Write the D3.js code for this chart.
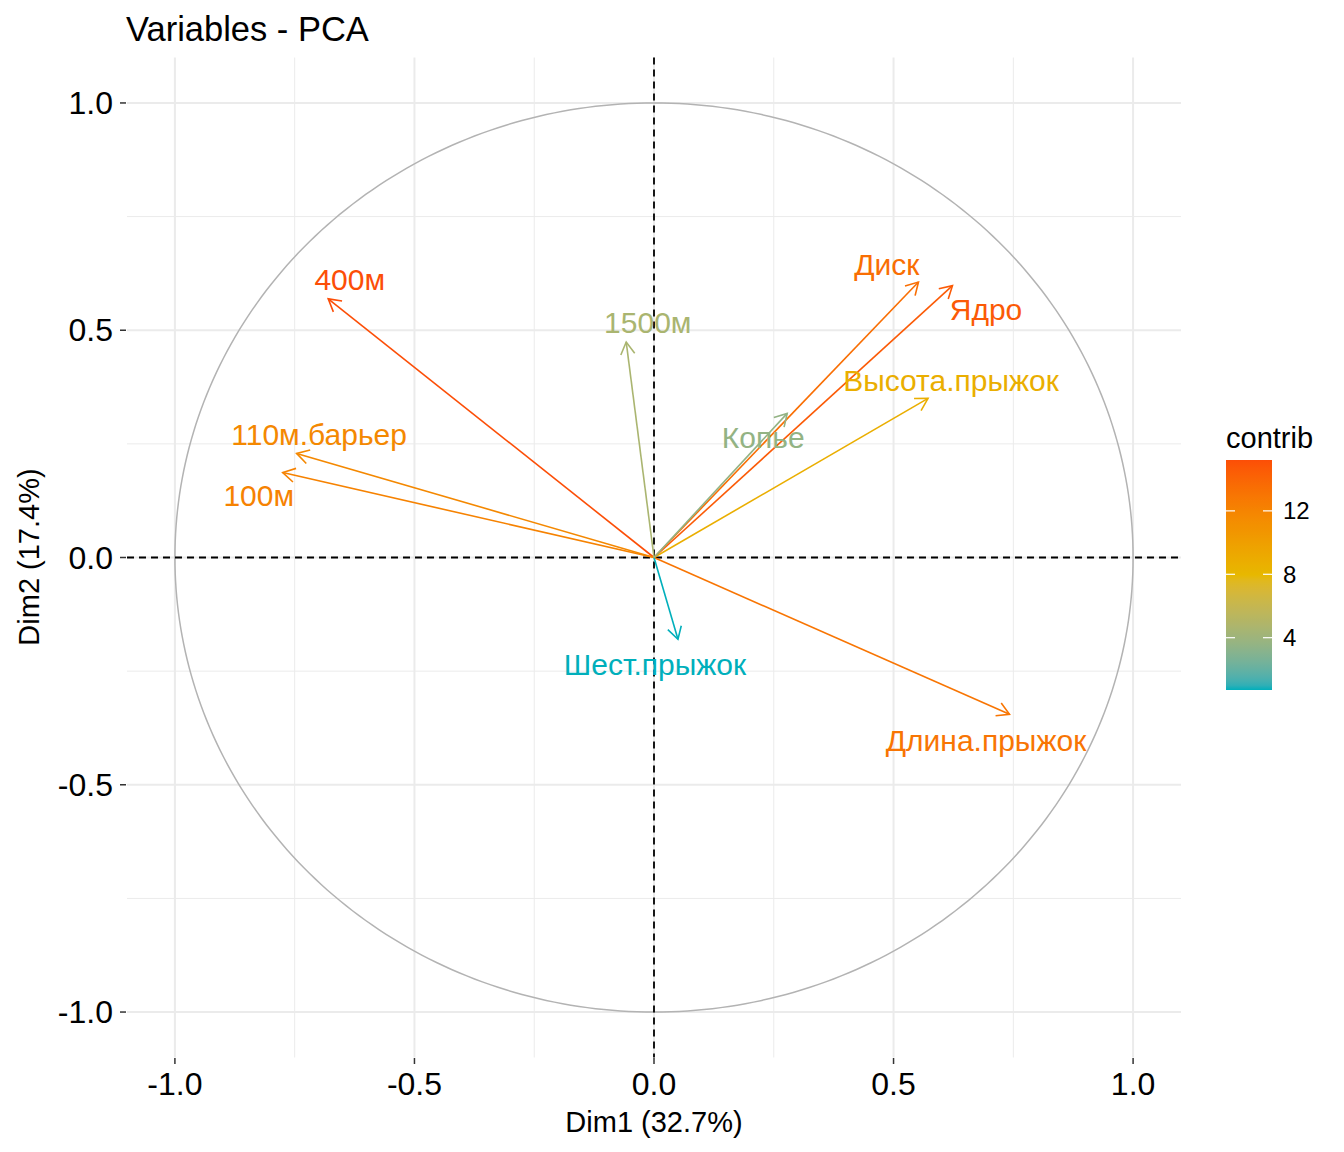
<!DOCTYPE html>
<html><head><meta charset="utf-8">
<script src="https://cdn.jsdelivr.net/npm/d3@7"></script>
<style>body{margin:0;background:#fff}svg{font-family:"Liberation Sans",Arial,sans-serif}</style>
</head><body><svg id="c" width="1344" height="1152"></svg>
<script>
const variables = ["100м","Длина.прыжок","Ядро","Высота.прыжок","400м","110м.барьер","Диск","Шест.прыжок","Копье","1500м"];
const dim1 = [-0.775, 0.742, 0.623, 0.572, -0.680, -0.746, 0.552, 0.050, 0.278, -0.058];
const dim2 = [0.187, -0.345, 0.598, 0.350, 0.569, 0.229, 0.606, -0.180, 0.317, 0.474];
const contrib = [12.14, 12.98, 14.59, 8.74, 15.21, 11.69, 13.44, 0.70, 3.55, 4.57];
const labelX = [-0.825, 0.693, 0.693, 0.620, -0.635, -0.699, 0.486, 0.002, 0.228, -0.013];
const labelY = [0.136, -0.403, 0.545, 0.389, 0.612, 0.270, 0.645, -0.235, 0.264, 0.516];
const axisTicks = [-1.0, -0.5, 0.0, 0.5, 1.0];
const axisTickLabels = ["-1.0", "-0.5", "0.0", "0.5", "1.0"];
const minorTicks = [-0.75, -0.25, 0.25, 0.75];
const legendTicks = [4, 8, 12];
const gradientColors = ["#00AFBB", "#E7B800", "#FC4E07"];

const svg = d3.select("#c");
const x = d3.scaleLinear().domain([-1.1, 1.1]).range([127, 1181]);
const y = d3.scaleLinear().domain([-1.1, 1.1]).range([1057.5, 57.5]);
const cmin = d3.min(contrib), cmax = d3.max(contrib);
const color = d3.scaleLinear().domain([cmin, (cmin + cmax) / 2, cmax]).range(gradientColors).interpolate(d3.interpolateLab);

// grid
const g = svg.append("g");
minorTicks.forEach(t => {
  g.append("line").attr("x1", x(t)).attr("x2", x(t)).attr("y1", y.range()[1]).attr("y2", y.range()[0]).attr("stroke", "#EBEBEB").attr("stroke-width", 1);
  g.append("line").attr("y1", y(t)).attr("y2", y(t)).attr("x1", x.range()[0]).attr("x2", x.range()[1]).attr("stroke", "#EBEBEB").attr("stroke-width", 1);
});
axisTicks.forEach(t => {
  g.append("line").attr("x1", x(t)).attr("x2", x(t)).attr("y1", y.range()[1]).attr("y2", y.range()[0]).attr("stroke", "#EBEBEB").attr("stroke-width", 2);
  g.append("line").attr("y1", y(t)).attr("y2", y(t)).attr("x1", x.range()[0]).attr("x2", x.range()[1]).attr("stroke", "#EBEBEB").attr("stroke-width", 2);
});

// circle
const circ = d3.range(0, 361).map(a => [Math.cos(a * Math.PI / 180), Math.sin(a * Math.PI / 180)]);
svg.append("path").attr("d", d3.line().x(d => x(d[0])).y(d => y(d[1]))(circ))
  .attr("fill", "none").attr("stroke", "#B3B3B3").attr("stroke-width", 1.5);

// zero lines
svg.append("line").attr("x1", x.range()[0]).attr("x2", x.range()[1]).attr("y1", y(0)).attr("y2", y(0))
  .attr("stroke", "#000").attr("stroke-width", 1.8).attr("stroke-dasharray", "7,5");
svg.append("line").attr("x1", x(0)).attr("x2", x(0)).attr("y1", y.range()[1]).attr("y2", y.range()[0])
  .attr("stroke", "#000").attr("stroke-width", 1.8).attr("stroke-dasharray", "7,5");

// arrows
const head = 14, ang = Math.PI / 6;
variables.forEach((v, i) => {
  const x0 = x(0), y0 = y(0), x1 = x(dim1[i]), y1 = y(dim2[i]);
  const th = Math.atan2(y1 - y0, x1 - x0);
  const col = color(contrib[i]);
  svg.append("line").attr("x1", x0).attr("y1", y0).attr("x2", x1).attr("y2", y1)
    .attr("stroke", col).attr("stroke-width", 1.6);
  const p = `M${x1 - head * Math.cos(th - ang)},${y1 - head * Math.sin(th - ang)}L${x1},${y1}L${x1 - head * Math.cos(th + ang)},${y1 - head * Math.sin(th + ang)}`;
  svg.append("path").attr("d", p).attr("fill", "none").attr("stroke", col).attr("stroke-width", 1.6);
});
variables.forEach((v, i) => {
  svg.append("text").attr("x", x(labelX[i])).attr("y", y(labelY[i])).attr("dy", "0.35em")
    .attr("text-anchor", "middle").attr("font-size", 30).attr("fill", color(contrib[i])).text(v);
});

// axes ticks
axisTicks.forEach((t, i) => {
  svg.append("line").attr("x1", x(t)).attr("x2", x(t)).attr("y1", 1058).attr("y2", 1064).attr("stroke", "#333").attr("stroke-width", 1.5);
  svg.append("text").attr("x", x(t)).attr("y", 1084).attr("dy", "0.35em").attr("text-anchor", "middle")
    .attr("font-size", 32).attr("fill", "#000").text(axisTickLabels[i]);
  svg.append("line").attr("x1", 120).attr("x2", 126).attr("y1", y(t)).attr("y2", y(t)).attr("stroke", "#333").attr("stroke-width", 1.5);
  svg.append("text").attr("x", 113).attr("y", y(t)).attr("dy", "0.35em").attr("text-anchor", "end")
    .attr("font-size", 32).attr("fill", "#000").text(axisTickLabels[i]);
});
svg.append("text").attr("x", 654).attr("y", 1122).attr("dy", "0.35em").attr("text-anchor", "middle")
  .attr("font-size", 29).text("Dim1 (32.7%)");
svg.append("text").attr("transform", "translate(29,557) rotate(-90)").attr("dy", "0.35em").attr("text-anchor", "middle")
  .attr("font-size", 29).text("Dim2 (17.4%)");
svg.append("text").attr("x", 126).attr("y", 41).attr("font-size", 34.5).text("Variables - PCA");

// legend
const ly = d3.scaleLinear().domain([cmin, cmax]).range([690, 460]);
const defs = svg.append("defs");
const lg = defs.append("linearGradient").attr("id", "lg").attr("x1", 0).attr("x2", 0).attr("y1", 1).attr("y2", 0);
d3.range(0, 1.0001, 0.02).forEach(f => {
  lg.append("stop").attr("offset", f).attr("stop-color", color(cmin + f * (cmax - cmin)));
});
svg.append("rect").attr("x", 1226).attr("y", 460).attr("width", 46).attr("height", 230).attr("fill", "url(#lg)");
legendTicks.forEach(t => {
  svg.append("line").attr("x1", 1226).attr("x2", 1235).attr("y1", ly(t)).attr("y2", ly(t)).attr("stroke", "#fff").attr("stroke-width", 1.2);
  svg.append("line").attr("x1", 1263).attr("x2", 1272).attr("y1", ly(t)).attr("y2", ly(t)).attr("stroke", "#fff").attr("stroke-width", 1.2);
  svg.append("text").attr("x", 1283).attr("y", ly(t)).attr("dy", "0.35em").attr("font-size", 24).text(t);
});
svg.append("text").attr("x", 1226).attr("y", 448).attr("font-size", 29).text("contrib");
</script></body></html>
